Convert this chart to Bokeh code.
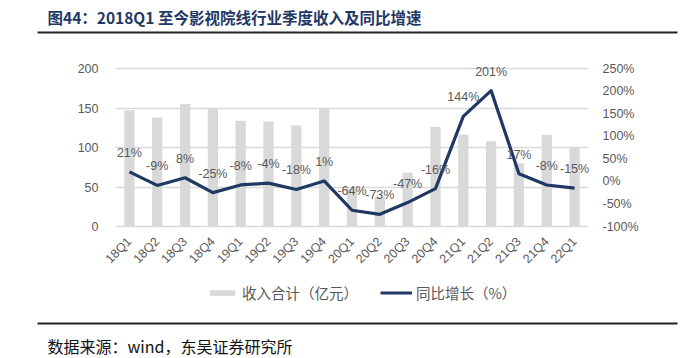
import math
import numpy as np
from bokeh.plotting import figure
from bokeh.models import (ColumnDataSource, Range1d, LinearAxis, FixedTicker,
                          CustomJSTickFormatter, Legend, LegendItem, Label, BoxAnnotation)
from bokeh.core.properties import value
from bokeh.embed import file_html
from bokeh.resources import INLINE

categories = ["18Q1", "18Q2", "18Q3", "18Q4", "19Q1", "19Q2", "19Q3", "19Q4",
              "20Q1", "20Q2", "20Q3", "20Q4", "21Q1", "21Q2", "21Q3", "21Q4", "22Q1"]
revenue = [147, 138, 155, 150, 134, 133, 128, 150, 48, 37, 68, 126, 116, 108, 80, 116, 100]
growth = [21, -9, 8, -25, -8, -4, -18, 1, -64, -73, -47, -16, 144, 201, 17, -8, -15]
growth_labels = [f"{g}%" for g in growth]
left_ticks = [0, 50, 100, 150, 200]
right_ticks = [-100, -50, 0, 50, 100, 150, 200, 250]

title_text = "图44：2018Q1 至今影视院线行业季度收入及同比增速"
source_text = "数据来源：wind，东吴证券研究所"
bar_name = "收入合计（亿元）"
line_name = "同比增长（%）"

# ---- page geometry (pixels) ----
W, H = 693, 358
PLOT_L, PLOT_R, PLOT_T, PLOT_B = 115, 588, 68, 226
FONT = "Liberation Sans"
CJK = "Noto Sans CJK SC"
TC = "#595959"
NAVY = "#1f3864"
BAR = "#d9d9d9"

n = len(categories)
xs = np.arange(n) + 0.5
lmin, lmax = left_ticks[0], left_ticks[-1]
rmin, rmax = right_ticks[0], right_ticks[-1]

# ranges so that the chart area sits at PLOT_* inside a full-canvas frame
px_x = (PLOT_R - PLOT_L) / n
px_l = (PLOT_B - PLOT_T) / (lmax - lmin)
px_r = (PLOT_B - PLOT_T) / (rmax - rmin)
x_range = Range1d(-PLOT_L / px_x, n + (W - PLOT_R) / px_x)
y_range = Range1d(lmin - (H - PLOT_B) / px_l, lmax + PLOT_T / px_l)
pct_range = Range1d(rmin - (H - PLOT_B) / px_r, rmax + PLOT_T / px_r)

p = figure(width=W, height=H, x_range=x_range, y_range=y_range,
           output_backend="svg", toolbar_location=None,
           min_border=0, min_border_left=0, min_border_right=0,
           min_border_top=0, min_border_bottom=0)
p.outline_line_color = None
p.background_fill_color = "white"
p.border_fill_color = "white"
p.grid.visible = False
p.extra_y_ranges = {"pct": pct_range}

src = ColumnDataSource(dict(x=xs, cat=categories, rev=revenue, gr=growth, lab=growth_labels))

bars = p.vbar(x="x", top="rev", bottom=lmin, width=0.37, source=src,
              fill_color=BAR, line_color=None)
line = p.line(x="x", y="gr", source=src, y_range_name="pct", line_color=NAVY,
              line_width=3.2, line_join="round")
p.text(x="x", y="gr", text="lab", source=src, y_range_name="pct",
       text_align="center", text_baseline="middle", y_offset=-19,
       text_font=value(FONT), text_font_size="12.5px", text_color=TC)

# left axis, its inward ticks act as the horizontal gridlines
ya = p.yaxis[0]
ya.fixed_location = 0
ya.ticker = FixedTicker(ticks=left_ticks)
ya.axis_line_color = None
ya.major_tick_in = PLOT_R - PLOT_L
ya.major_tick_out = 0
ya.major_tick_line_color = BAR
ya.major_tick_line_width = 1.3
ya.minor_tick_line_color = None
ya.major_label_text_font = FONT
ya.major_label_text_font_size = "12.5px"
ya.major_label_text_color = TC
ya.major_label_standoff = 17
ya.level = "underlay"

ra = LinearAxis(y_range_name="pct", ticker=FixedTicker(ticks=right_ticks),
                formatter=CustomJSTickFormatter(code="return tick + '%';"))
ra.fixed_location = n
ra.axis_line_color = None
ra.major_tick_line_color = None
ra.major_tick_in = 0
ra.major_tick_out = 0
ra.minor_tick_line_color = None
ra.major_label_text_font = FONT
ra.major_label_text_font_size = "12.5px"
ra.major_label_text_color = TC
ra.major_label_standoff = 14
p.add_layout(ra, "right")

xa = p.xaxis[0]
xa.fixed_location = lmin
xa.ticker = FixedTicker(ticks=list(xs))
xa.formatter = CustomJSTickFormatter(args=dict(cats=categories),
                                     code="return cats[Math.round(tick - 0.5)];")
xa.axis_line_color = None
xa.major_tick_line_color = None
xa.major_tick_in = 0
xa.major_tick_out = 0
xa.minor_tick_line_color = None
xa.major_label_orientation = math.pi / 4
xa.major_label_text_font = FONT
xa.major_label_text_font_size = "12.5px"
xa.major_label_text_color = TC
xa.major_label_standoff = 13

legend = Legend(items=[LegendItem(label=bar_name, renderers=[bars]),
                       LegendItem(label=line_name, renderers=[line])],
                orientation="horizontal", location=(206, H - 303),
                glyph_width=32, glyph_height=7, label_standoff=4, spacing=22,
                label_text_font=CJK, label_text_font_size="14.5px", label_height=16,
                label_text_color=TC, background_fill_alpha=0, border_line_color=None,
                padding=0, margin=0)
p.add_layout(legend, "center")

p.add_layout(Label(x=47, y=16, x_units="canvas", y_units="canvas", text=title_text,
                   text_font=CJK, text_font_style="bold", text_font_size="15.5px",
                   text_color=NAVY, text_baseline="middle"))
for rule_top in (31, 322):
    p.add_layout(BoxAnnotation(left=37, right=677, top=rule_top, bottom=rule_top + 2,
                               left_units="canvas", right_units="canvas",
                               top_units="canvas", bottom_units="canvas",
                               fill_color="#222222", fill_alpha=1, line_color=None,
                               line_alpha=0))
p.add_layout(Label(x=47, y=345, x_units="canvas", y_units="canvas", text=source_text,
                   text_font=CJK, text_font_size="16px",
                   text_color="#111111", text_baseline="middle"))

open("out.html", "w").write(file_html(p, INLINE))
